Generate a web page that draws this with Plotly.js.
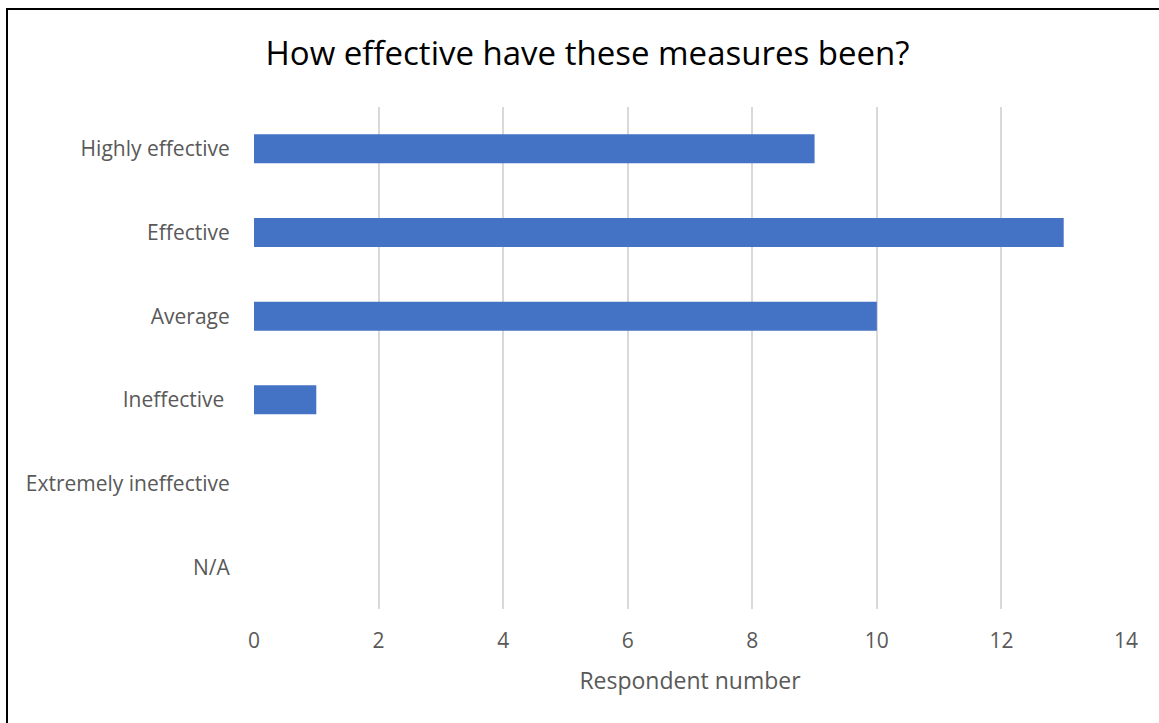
<!DOCTYPE html>
<html>
<head>
<meta charset="utf-8">
<script src="https://cdn.plot.ly/plotly-3.0.1.min.js"></script>
<style>
  html, body { margin: 0; padding: 0; background: #fff; }
  #wrap { position: relative; width: 1159px; height: 723px; overflow: hidden; }
  #chart { width: 1159px; height: 723px; }
  #frame { position: absolute; left: 6px; top: 8px; width: 1300px; height: 900px;
           border-left: 2px solid #000; border-top: 2px solid #000; pointer-events: none; }
</style>
</head>
<body>
<div id="wrap">
  <div id="chart"></div>
  <div id="frame"></div>
</div>
<script>
const categories = ["Highly effective", "Effective", "Average", "Ineffective\u00a0", "Extremely ineffective", "N/A"];
const respondents = [9, 13, 10, 1, 0, 0];
const xTickValues = [0, 2, 4, 6, 8, 10, 12, 14];
const chartTitle = "How effective have these measures been?";
const xAxisTitle = "Respondent number";

const trace = {
  type: "bar",
  orientation: "h",
  x: respondents,
  y: categories,
  marker: { color: "#4472C4", line: { width: 0 } },
  hoverinfo: "x+y"
};

const layout = {
  width: 1159,
  height: 723,
  margin: { l: 254, r: 33, t: 107, b: 114 },
  paper_bgcolor: "#ffffff",
  plot_bgcolor: "#ffffff",
  showlegend: false,
  bargap: 0.654,
  font: { family: "Open Sans, sans-serif", color: "#595959" },
  title: {
    text: chartTitle,
    font: { family: "Open Sans, sans-serif", size: 33, color: "#000000" },
    x: 587.5 / 1159,
    xanchor: "center",
    xref: "container",
    y: 1 - 53 / 723,
    yanchor: "middle",
    yref: "container"
  },
  xaxis: {
    range: [0, 14],
    tickvals: xTickValues,
    ticktext: xTickValues.map(String),
    showgrid: true,
    gridcolor: "#d9d9d9",
    gridwidth: 2,
    zeroline: false,
    showline: false,
    ticks: "outside",
    ticklen: 13,
    tickcolor: "rgba(0,0,0,0)",
    tickfont: { family: "Open Sans, sans-serif", size: 21, color: "#595959" },
    title: {
      text: xAxisTitle,
      font: { family: "Open Sans, sans-serif", size: 23, color: "#595959" },
      standoff: 19
    },
    fixedrange: true
  },
  yaxis: {
    autorange: "reversed",
    showgrid: false,
    zeroline: false,
    showline: false,
    ticks: "outside",
    ticklen: 19,
    tickcolor: "rgba(0,0,0,0)",
    tickfont: { family: "Open Sans, sans-serif", size: 21, color: "#595959" },
    fixedrange: true
  }
};

Plotly.newPlot("chart", [trace], layout, { displayModeBar: false, staticPlot: true });
</script>
</body>
</html>
